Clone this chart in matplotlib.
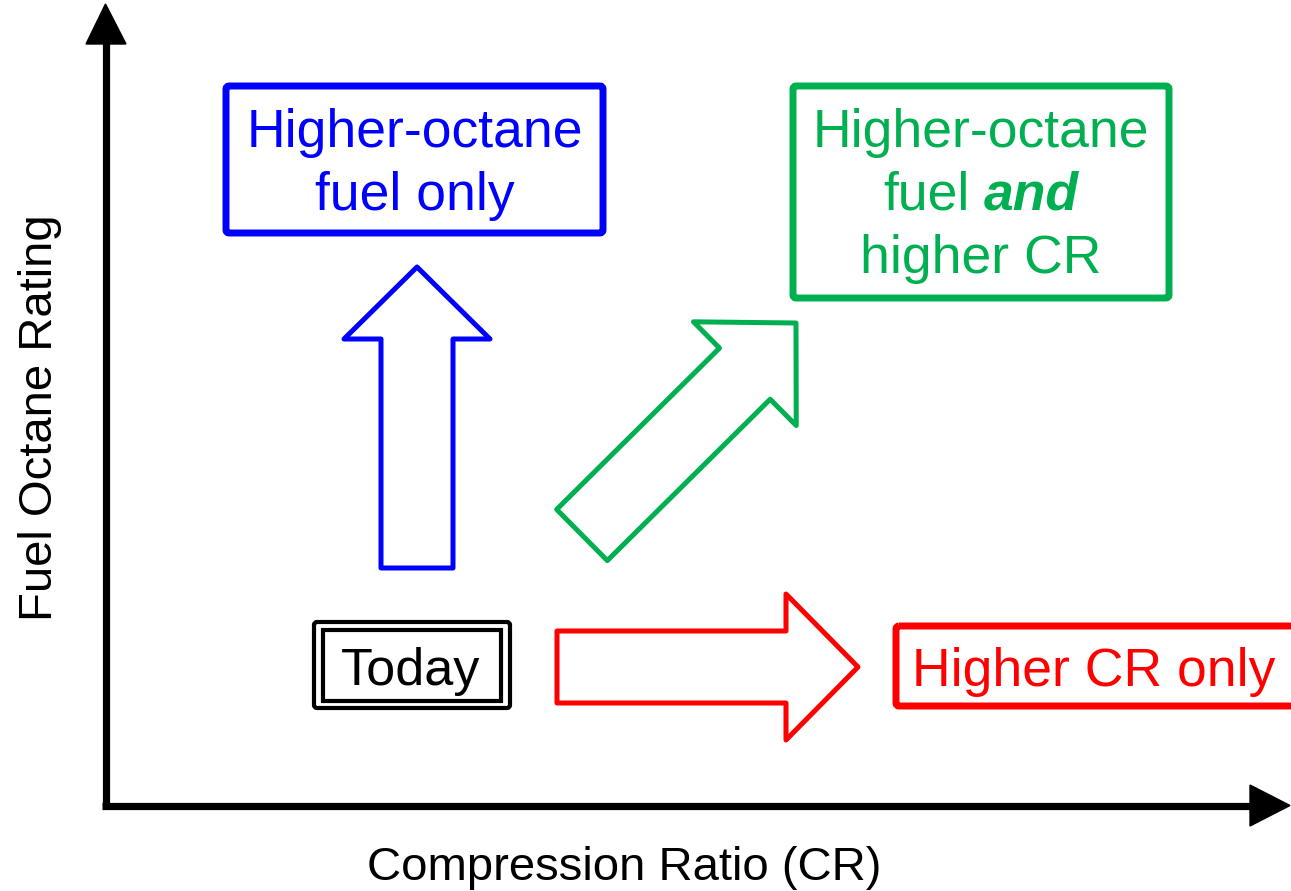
import numpy as np
import matplotlib
matplotlib.use("Agg")
import matplotlib.pyplot as plt
from matplotlib.patches import Polygon, Rectangle, FancyBboxPatch

plt.rcParams['font.family'] = ['Liberation Sans', 'DejaVu Sans']

# labels and colours
x_label = "Compression Ratio (CR)"
y_label = "Fuel Octane Rating"
today_label = "Today"
octane_lines = ["Higher-octane", "fuel only"]
both_lines = ["Higher-octane", "fuel", "and", "higher CR"]
cr_label = "Higher CR only"
blue = "#0000FF"
green = "#00B050"
red = "#FF0000"

W, H = 1291, 891
fig = plt.figure(figsize=(W / 100, H / 100), dpi=100)
ax = fig.add_axes([0, 0, 1, 1])
ax.set_xlim(0, W)
ax.set_ylim(H, 0)
ax.axis("off")


def block_arrow(tail, tip, color, shaft=72, head=146, head_len=72):
    # outline of a fat block arrow from tail to tip
    tail = np.array(tail, float)
    tip = np.array(tip, float)
    d = (tip - tail) / np.linalg.norm(tip - tail)
    n = np.array([-d[1], d[0]])
    base = tip - d * head_len
    pts = [tail + n * shaft / 2, base + n * shaft / 2, base + n * head / 2, tip,
           base - n * head / 2, base - n * shaft / 2, tail - n * shaft / 2]
    ax.add_patch(Polygon(pts, closed=True, fill=False, edgecolor=color,
                         lw=3.6, joinstyle="round"))


def box(x0, y0, x1, y1, color, lw=5):
    ax.add_patch(FancyBboxPatch((x0, y0), x1 - x0, y1 - y0,
                                boxstyle="round,pad=0,rounding_size=3",
                                fill=False, edgecolor=color, lw=lw,
                                joinstyle="round", clip_on=False))


# axes with arrowheads
ax.plot([105.5, 105.5], [805.5, 42], color="black", lw=5.2, solid_capstyle="butt")
ax.plot([102, 1252], [805.5, 805.5], color="black", lw=5.2, solid_capstyle="butt")
ax.add_patch(Polygon([(86, 44), (126, 44), (105.5, 4)], closed=True, color="black"))
ax.add_patch(Polygon([(1250, 785), (1250, 826), (1290, 805.5)], closed=True, color="black"))

ax.text(W / 2 + 0 - 21, 880, x_label, fontsize=34, ha="center", va="baseline")
ax.text(52, 418, y_label, fontsize=34, ha="center", va="baseline",
        rotation=90, rotation_mode="anchor")

# Today box (double border)
box(314, 622, 510, 708, "black", lw=3)
ax.add_patch(Rectangle((323, 630), 178, 71, fill=False, edgecolor="black", lw=3))
ax.text(411, 685, today_label, fontsize=37.5, ha="center", va="baseline")

# Higher-octane fuel only
box(226, 86, 603, 233, blue)
ax.text(415, 147, octane_lines[0], fontsize=38.5, color=blue, ha="center", va="baseline")
ax.text(415, 210, octane_lines[1], fontsize=38.5, color=blue, ha="center", va="baseline")

# Higher-octane fuel and higher CR
box(793, 86, 1169, 298, green)
gx = 981
ax.text(gx, 147, both_lines[0], fontsize=38.5, color=green, ha="center", va="baseline")
ax.text(gx, 273, both_lines[3], fontsize=38.5, color=green, ha="center", va="baseline")
r = fig.canvas.get_renderer()
t1 = ax.text(0, 210, both_lines[1], fontsize=38.5, color=green, ha="left", va="baseline")
t2 = ax.text(0, 210, both_lines[2], fontsize=38.5, color=green, ha="left", va="baseline",
             fontweight="bold", fontstyle="italic")
w1 = t1.get_window_extent(r).width
w2 = t2.get_window_extent(r).width
sp = 0.278 * 38.5 * 100 / 72
x0 = gx - (w1 + sp + w2) / 2
t1.set_x(x0)
t2.set_x(x0 + w1 + sp)

# Higher CR only
box(896, 626, 1300, 706, red)
ax.text(1094, 686, cr_label, fontsize=38.5, color=red, ha="center", va="baseline")

# arrows
block_arrow((417, 568), (417, 267), blue)
block_arrow((582, 535), (796, 323), green)
block_arrow((557, 667), (858, 667), red)

fig.savefig("out.png", dpi=100)
